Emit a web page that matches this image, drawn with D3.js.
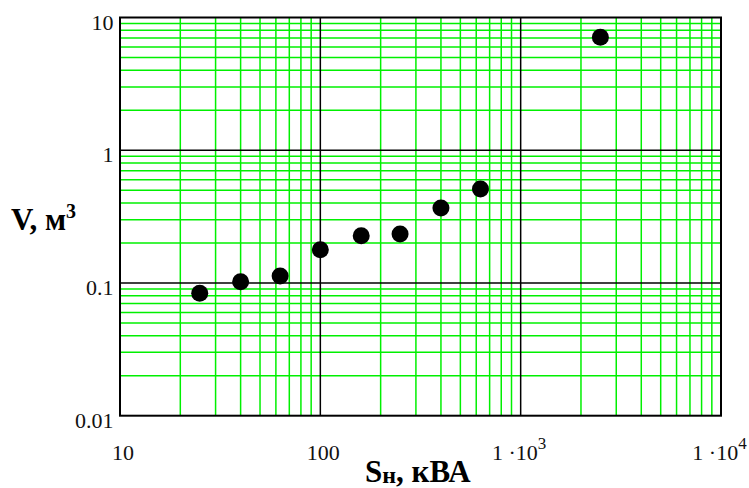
<!DOCTYPE html>
<html>
<head>
<meta charset="utf-8">
<script src="https://cdn.jsdelivr.net/npm/d3@7"></script>
<style>
  html, body { margin: 0; padding: 0; background: #fff; }
  svg { display: block; font-family: "Liberation Serif", "Times New Roman", serif; }
</style>
</head>
<body>
<svg id="chart" width="749" height="488"></svg>
<script>
// Rated transformer power, kVA
const powerKVA = [25, 40, 63, 100, 160, 250, 400, 630, 2500];
// Volume, m^3
const volumeM3 = [0.0835, 0.102, 0.113, 0.178, 0.227, 0.234, 0.367, 0.51, 7.09];

// Decade tick labels: [mantissa text, exponent text]
const xTickValues = [10, 100, 1000, 10000];
const xTickLabels = [["10", ""], ["100", ""], ["1 \u00B710", "3"], ["1 \u00B710", "4"]];
const yTickValues = [0.01, 0.1, 1, 10];
const yTickLabels = ["0.01", "0.1", "1", "10"];

const svg = d3.select("#chart");
const plotLeft = 120, plotRight = 721, plotTop = 17.5, plotBottom = 415.7;

const x = d3.scaleLog().domain([10, 10000]).range([plotLeft, plotRight]);
const y = d3.scaleLog().domain([0.01, 10]).range([plotBottom, plotTop]);

// Minor gridlines (2..9 within each decade)
const isDecade = (v, list) => list.some(t => Math.abs(t - v) / t < 1e-9);
const minorX = x.ticks().filter(v => !isDecade(v, xTickValues));
const minorY = y.ticks().filter(v => !isDecade(v, yTickValues));

const green = "#00f000";
const grid = svg.append("g");
grid.append("g").selectAll("line").data(minorX).join("line")
  .attr("x1", d => x(d)).attr("x2", d => x(d))
  .attr("y1", plotTop).attr("y2", plotBottom)
  .attr("stroke", green).attr("stroke-width", 1.5);
grid.append("g").selectAll("line").data(minorY).join("line")
  .attr("y1", d => y(d)).attr("y2", d => y(d))
  .attr("x1", plotLeft).attr("x2", plotRight)
  .attr("stroke", green).attr("stroke-width", 1.5);

// Major decade gridlines
grid.append("g").selectAll("line").data(xTickValues.slice(1, -1)).join("line")
  .attr("x1", d => x(d)).attr("x2", d => x(d))
  .attr("y1", plotTop).attr("y2", plotBottom)
  .attr("stroke", "#000").attr("stroke-width", 1.5);
grid.append("g").selectAll("line").data(yTickValues.slice(1, -1)).join("line")
  .attr("y1", d => y(d)).attr("y2", d => y(d))
  .attr("x1", plotLeft).attr("x2", plotRight)
  .attr("stroke", "#000").attr("stroke-width", 1.5);

// Plot frame
svg.append("rect")
  .attr("x", plotLeft).attr("y", plotTop)
  .attr("width", plotRight - plotLeft).attr("height", plotBottom - plotTop)
  .attr("fill", "none").attr("stroke", "#000").attr("stroke-width", 2);

// Data points
svg.append("g").selectAll("circle")
  .data(powerKVA.map((p, i) => [p, volumeM3[i]]))
  .join("circle")
  .attr("cx", d => x(d[0])).attr("cy", d => y(d[1]))
  .attr("r", 8.5).attr("fill", "#000");

// X tick labels
const xl = svg.append("g").attr("font-size", 22).attr("fill", "#111");
xTickValues.forEach((v, i) => {
  const [mant, expo] = xTickLabels[i];
  const t = xl.append("text")
    .attr("x", x(v) + (expo ? -1.5 : 3)).attr("y", 460)
    .attr("text-anchor", "middle");
  t.append("tspan").text(mant);
  if (expo) {
    t.append("tspan").attr("dy", -11).attr("font-size", 17).text(expo);
  }
});

// Y tick labels
svg.append("g").attr("font-size", 22).attr("fill", "#111")
  .selectAll("text").data(yTickValues).join("text")
  .attr("x", 113.5).attr("y", d => y(d) + 12)
  .attr("text-anchor", "end")
  .text((d, i) => yTickLabels[i]);

// Axis titles
const yt = svg.append("text")
  .attr("x", 11).attr("y", 230)
  .attr("font-size", 31).attr("font-weight", "bold");
yt.append("tspan").text("V, м");
yt.append("tspan").attr("dy", -12).attr("font-size", 20).text("3");

const xt = svg.append("text")
  .attr("x", 365).attr("y", 481.5)
  .attr("font-size", 31).attr("font-weight", "bold");
xt.append("tspan").text("S");
xt.append("tspan").attr("dy", 1).attr("font-size", 24).text("н");
xt.append("tspan").attr("dy", -1).text(", кВА");
</script>
</body>
</html>
